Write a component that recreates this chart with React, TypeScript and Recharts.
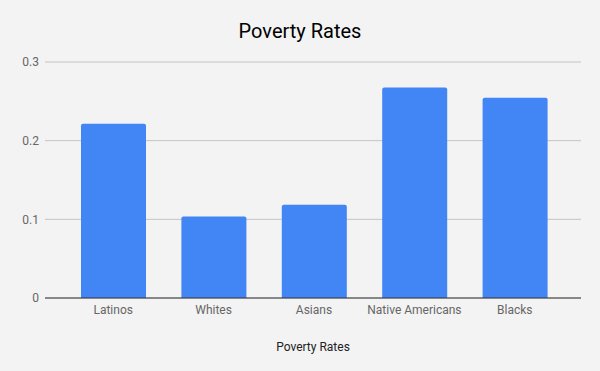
import { Bar, BarChart, CartesianGrid, Label, XAxis, YAxis } from 'recharts'

const GROUPS = ['Latinos', 'Whites', 'Asians', 'Native Americans', 'Blacks']
const RATES = [0.2215, 0.1035, 0.1185, 0.2675, 0.2545]
const Y_TICKS = [0, 0.1, 0.2, 0.3]

const data = GROUPS.map((name, i) => ({ name, rate: RATES[i] }))

const FONT = 'Roboto, "Noto Sans", sans-serif'

export default function App() {
  return (
    <div style={{ position: 'fixed', left: 0, top: 0, width: 600, height: 371, background: '#f3f3f3', fontFamily: FONT }}>
      <div style={{ position: 'absolute', left: 0, top: 19, width: 600, textAlign: 'center', fontSize: 20, color: '#000', lineHeight: '24px' }}>
        Poverty Rates
      </div>
      <BarChart width={600} height={371} data={data} margin={{ top: 62, right: 19, bottom: 0, left: 0 }}>
        <CartesianGrid stroke="#c4c4c4" vertical={false} />
        <XAxis
          dataKey="name"
          height={73}
          padding={{ left: 18, right: 16 }}
          axisLine={{ stroke: '#333', strokeWidth: 1 }}
          tickLine={false}
          tickSize={0}
          tickMargin={7}
          interval={0}
          tick={{ fontSize: 12, fill: '#666', fontFamily: FONT }}
        >
          <Label value="Poverty Rates" position="insideBottom" offset={20} style={{ fontSize: 12, fill: '#222', fontFamily: FONT }} />
        </XAxis>
        <YAxis
          width={45}
          domain={[0, 0.3]}
          ticks={Y_TICKS}
          axisLine={false}
          tickLine={false}
          tickSize={0}
          tickMargin={6}
          tick={{ fontSize: 12, fill: '#666', fontFamily: FONT }}
        />
        <Bar dataKey="rate" fill="#4285f4" barSize={65} radius={[2, 2, 0, 0]} isAnimationActive={false} />
      </BarChart>
    </div>
  )
}
